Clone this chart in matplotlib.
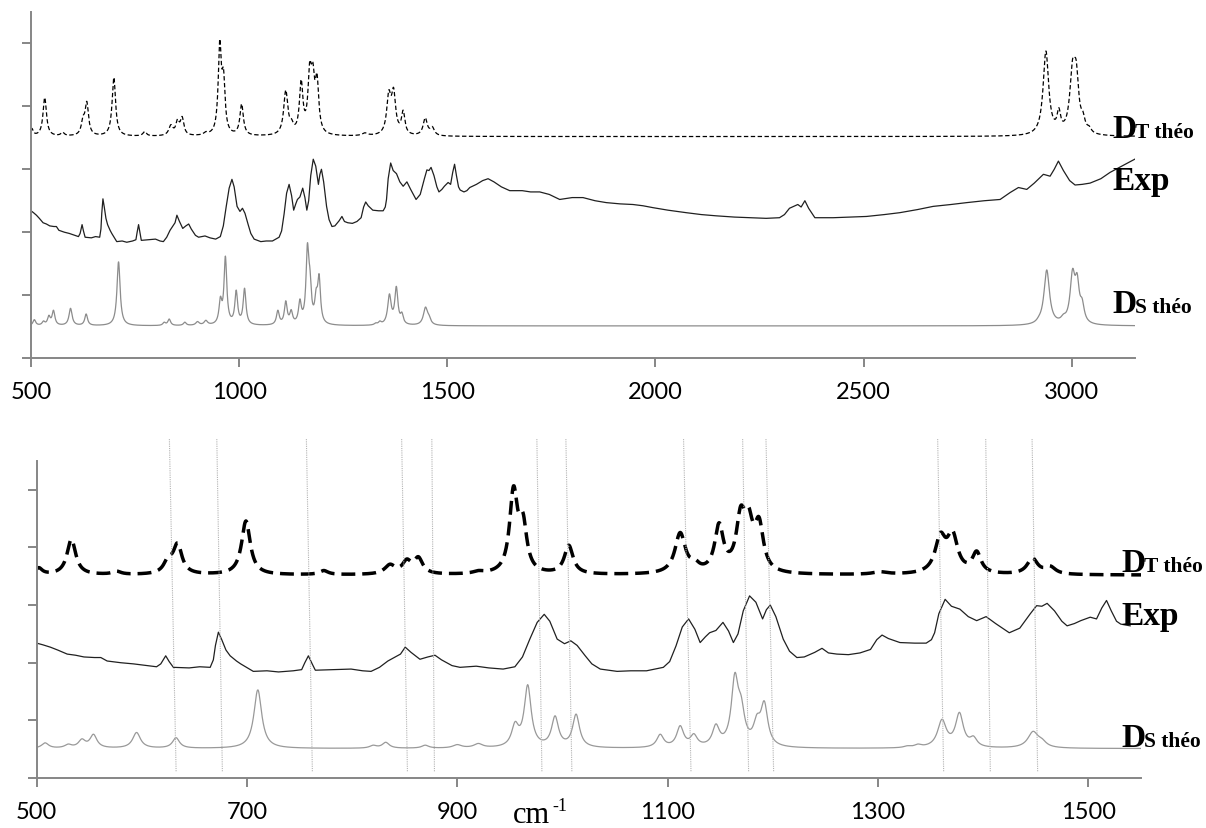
import numpy as np
import matplotlib.pyplot as plt

plt.rcParams['font.family'] = ['Lato', 'DejaVu Sans']

# D_T theo: band positions (cm-1), curve top at each band (axis units), half widths
dt_pos = [502, 533, 576, 625, 634, 699, 773, 836, 852, 863, 920, 953.5, 962.4, 1006,
          1112, 1126, 1149, 1169.5, 1177, 1187, 1302, 1359.5, 1371, 1394, 1447, 1464,
          2938, 2969, 3002, 3011, 3027, 3042]
dt_top = [3.65, 4.14, 3.59, 3.85, 4.08, 4.46, 3.60, 3.71, 3.80, 3.84, 3.60, 5.07, 4.61, 4.04,
          4.26, 3.80, 4.43, 4.72, 4.71, 4.53, 3.58, 4.26, 4.30, 3.94, 3.82, 3.68,
          4.88, 3.98, 4.75, 4.72, 3.92, 3.69]
dt_hw = [4, 5, 5, 5, 5, 5, 5, 6, 5, 5, 6, 4.5, 4.5, 5,
         6, 5, 5, 5, 5, 5, 8, 6, 6, 5, 6, 6,
         8, 5, 8, 7, 6, 6]
dt_base = 3.52

# D_S theo
ds_pos = [508, 530, 543, 554, 595, 632.5, 710.3, 820, 832, 869.5, 900, 920, 955, 967, 993,
          1013, 1093, 1112, 1125, 1146, 1164, 1170, 1185, 1192, 1328, 1338, 1361, 1377.6,
          1391, 1447.6, 1456, 2921, 2940, 2980, 3002, 3013, 3025]
ds_top = [0.61, 0.59, 0.68, 0.76, 0.79, 0.70, 1.53, 0.57, 0.62, 0.57, 0.58, 0.60, 0.98, 1.62, 1.08,
          1.11, 0.76, 0.91, 0.77, 0.94, 1.83, 1.43, 1.11, 1.34, 0.56, 0.59, 1.02, 1.14,
          0.73, 0.81, 0.69, 0.67, 1.40, 0.70, 1.42, 1.35, 0.95]
ds_hw = [4, 4, 4, 4, 4.5, 4, 4.5, 4, 4, 4, 5, 5, 4, 4, 4,
         4, 4, 4, 4, 4, 4, 4, 4, 4, 4, 4, 5, 4.5,
         4, 6, 5, 6, 8, 7, 7, 6, 6]
ds_base = 0.51

# experimental spectrum, read point by point
exp_x = [500, 506, 513, 520, 529, 537, 545, 555, 561, 567, 580, 592, 605, 614, 618, 622.7, 626,
         630, 645, 655, 665, 668, 670, 672.8, 676, 680, 684, 690, 694, 706, 719, 730, 744, 752,
         755, 758.4, 762, 765, 783, 799, 810, 818, 826, 834, 846, 850.5, 856, 864.5, 872, 878.8,
         885, 895, 902.6, 918, 930, 943.6, 954.8, 962, 969, 976, 982.7, 988, 995, 1002, 1008,
         1014, 1021.7, 1028, 1036, 1052, 1065, 1080, 1096, 1102, 1108, 1114, 1120, 1126, 1131,
         1136, 1140, 1146, 1152.7, 1158, 1162.6, 1167, 1172, 1178, 1184, 1190.4, 1194, 1197.7,
         1203, 1210, 1216, 1223, 1230, 1240, 1246.9, 1253, 1261, 1272, 1283, 1293, 1299, 1304,
         1310, 1321, 1335, 1346, 1351, 1354, 1358, 1364, 1370, 1378, 1386, 1394, 1403, 1412,
         1425, 1435, 1445, 1451, 1456, 1461, 1468, 1475, 1480, 1487, 1493, 1502, 1508, 1513,
         1517.5, 1522, 1527, 1531, 1540, 1547, 1554, 1570, 1585, 1598, 1612, 1630, 1650, 1680,
         1700, 1722, 1745, 1770, 1800, 1826, 1855, 1882, 1915, 1946, 1970, 1994, 2030, 2074,
         2110, 2146, 2190, 2226, 2266, 2298, 2310, 2322, 2335, 2342, 2350, 2359, 2368, 2383,
         2427, 2470, 2507, 2550, 2587, 2630, 2667, 2710, 2748, 2790, 2828, 2852, 2872, 2892,
         2910, 2932, 2948, 2958, 2968, 2980, 2995, 3008, 3025, 3044, 3070, 3092, 3120, 3140, 3160]
exp_y = [2.34, 2.31, 2.27, 2.22, 2.15, 2.13, 2.10, 2.09, 2.09, 2.03, 2.00, 1.98, 1.95, 1.93, 1.98, 2.12, 2.02,
         1.92, 1.91, 1.93, 1.92, 2.05, 2.30, 2.53, 2.40, 2.22, 2.12, 2.03, 1.98, 1.85, 1.86, 1.84, 1.86, 1.88,
         2.00, 2.12, 1.98, 1.87, 1.88, 1.89, 1.86, 1.85, 1.92, 2.03, 2.15, 2.27, 2.18, 2.06, 2.10, 2.13,
         2.05, 1.95, 1.92, 1.94, 1.91, 1.89, 1.93, 2.10, 2.41, 2.70, 2.84, 2.72, 2.41, 2.33, 2.38,
         2.30, 2.12, 1.98, 1.89, 1.85, 1.86, 1.86, 1.92, 2.02, 2.29, 2.62, 2.76, 2.58, 2.35,
         2.45, 2.52, 2.56, 2.70, 2.55, 2.35, 2.50, 2.90, 3.16, 3.05, 2.76, 2.92, 3.00,
         2.80, 2.41, 2.20, 2.09, 2.10, 2.18, 2.25, 2.17, 2.15, 2.14, 2.17, 2.23, 2.40, 2.48,
         2.42, 2.35, 2.34, 2.34, 2.40, 2.52, 2.85, 3.10, 2.98, 2.93, 2.80, 2.73, 2.80, 2.68,
         2.52, 2.60, 2.85, 2.99, 2.98, 3.03, 2.90, 2.72, 2.64, 2.68, 2.73, 2.79, 2.76, 2.95,
         3.08, 2.90, 2.72, 2.67, 2.64, 2.66, 2.71, 2.76, 2.82, 2.85, 2.80, 2.72, 2.66, 2.66,
         2.64, 2.64, 2.60, 2.52, 2.55, 2.55, 2.50, 2.47, 2.45, 2.44, 2.42, 2.39, 2.35, 2.31,
         2.28, 2.26, 2.24, 2.23, 2.22, 2.23, 2.28, 2.38, 2.42, 2.44, 2.40, 2.50, 2.38, 2.23,
         2.23, 2.24, 2.25, 2.28, 2.31, 2.36, 2.41, 2.44, 2.47, 2.50, 2.52, 2.63, 2.71, 2.68,
         2.78, 2.92, 2.89, 3.00, 3.13, 2.98, 2.82, 2.75, 2.76, 2.78, 2.85, 2.95, 3.05, 3.12, 3.19]

top_ticks = [500, 1000, 1500, 2000, 2500, 3000]
bottom_ticks = [500, 700, 900, 1100, 1300, 1500]

# dotted guide lines of the zoomed panel: x at the top end and at the bottom end
guide_top = [626.2, 671.3, 756.5, 847.1, 875.8, 975.7, 1003.3, 1115.2, 1171.4, 1193.6, 1356.9, 1402.6, 1446.7]
guide_bottom = [632.6, 676.6, 762.2, 852.6, 878.3, 980.5, 1009, 1122.3, 1177.1, 1200.9, 1362.6, 1407, 1452]


def lorentz(x, c, w):
    return w ** 2 / ((x - c) ** 2 + w ** 2)


def spectrum(x, pos, top, hw, base):
    pos = np.array(pos, float)
    hw = np.array(hw, float)
    # amplitudes so that the broadened curve passes through the read tops
    a = lorentz(pos[:, None], pos[None, :], hw[None, :])
    amp = np.linalg.solve(a, np.array(top) - base)
    return base + (amp[None, :] * lorentz(x[:, None], pos[None, :], hw[None, :])).sum(axis=1)


x = np.arange(500, 3160.5, 0.5)
dt = spectrum(x, dt_pos, dt_top, dt_hw, dt_base)
ds = spectrum(x, ds_pos, ds_top, ds_hw, ds_base)
exp_x = np.array(exp_x)
exp_y = np.array(exp_y)

W, H = 1206, 829
fig = plt.figure(figsize=(W / 100, H / 100), dpi=100)
ax1 = fig.add_axes([31 / W, 470 / H, 1104 / W, 346 / H])
ax2 = fig.add_axes([36.7 / W, 50 / H, 1104 / W, 317 / H])

axcol = '#868686'
for ax in (ax1, ax2):
    for s in ('top', 'right'):
        ax.spines[s].set_visible(False)
    for s in ('left', 'bottom'):
        ax.spines[s].set_color(axcol)
        ax.spines[s].set_linewidth(1.4)
    ax.set_ylim(0, 5.5)
    ax.set_yticks(range(6))
    ax.set_yticklabels([])
    ax.tick_params(axis='both', direction='out', length=6.5, width=1.4, color=axcol)
    ax.tick_params(axis='x', labelsize=17, pad=10)

# full range
ax1.plot(x, dt, color='black', lw=0.9, dashes=(3.5, 2))
ax1.plot(exp_x, exp_y, color='#202020', lw=0.9)
ax1.plot(x, ds, color='#8c8c8c', lw=0.9)
ax1.set_xlim(500, 3152)
ax1.set_xticks(top_ticks)

# zoom 500-1550
ax2.plot(x, dt, color='black', lw=2.5, dashes=(4, 2))
m = exp_x <= 1543
ax2.plot(exp_x[m], exp_y[m], color='#202020', lw=0.9)
ax2.plot(x, ds, color='#999999', lw=0.9)
for xt, xb in zip(guide_top, guide_bottom):
    ax2.plot([xt, xb], [5.88, 0.1], color='#b3b3b3', lw=0.8, ls=(0, (1, 1)), clip_on=False)
ax2.set_xlim(500, 1550)
ax2.set_xticks(bottom_ticks)


def label(px, py, big, small, fs_big=24, fs_small=15.5, dx=23):
    kw = dict(family='Liberation Serif', weight='bold', va='baseline', ha='left')
    fig.text(px / W, 1 - py / H, big, fontsize=fs_big, **kw)
    if small:
        fig.text((px + dx) / W, 1 - py / H, small, fontsize=fs_small, **kw)


label(1112, 138, 'D', 'T théo')
label(1112, 190, 'Exp', '')
label(1112, 313, 'D', 'S théo')
label(1121, 572, 'D', 'T théo')
label(1121, 625, 'Exp', '')
label(1121, 747, 'D', 'S théo')

fig.text(513 / W, 1 - 823 / H, 'cm', family='Liberation Serif', fontsize=22, va='baseline')
fig.text(552 / W, 1 - 811 / H, '-1', family='Liberation Serif', fontsize=13, va='baseline')

fig.savefig('out.png', dpi=100)
